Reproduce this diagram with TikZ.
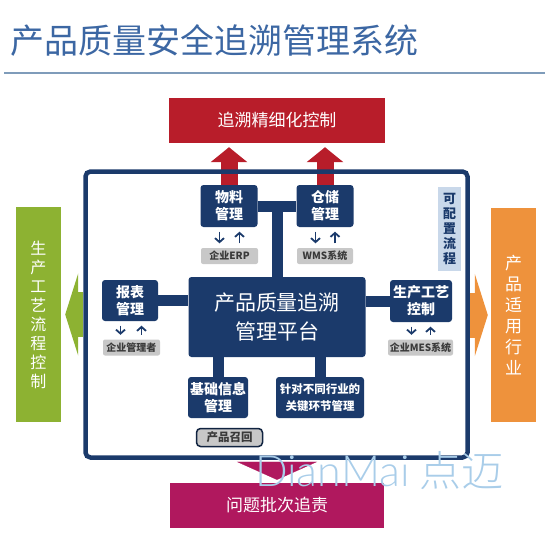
\documentclass[tikz,border=0pt]{standalone}
\usepackage{fontspec}
\setmainfont{Noto Sans CJK SC}
\newfontfamily\wmfont{Lato}[UprightFont=* Light]
\newfontfamily\wmcjk{Noto Sans CJK SC}[UprightFont=* Light]
\usepackage{tikz}
\usetikzlibrary{arrows.meta,calc}

\definecolor{navy}{HTML}{1B3A6B}
\definecolor{titleblue}{HTML}{3C67A3}
\definecolor{rulegray}{HTML}{7F9CBA}
\definecolor{crimson}{HTML}{B81D2A}
\definecolor{berry}{HTML}{B0185E}
\definecolor{leaf}{HTML}{8DB232}
\definecolor{amber}{HTML}{EE923C}
\definecolor{paleblue}{HTML}{C9D8EA}
\definecolor{labelgray}{HTML}{C8C8C8}
\definecolor{labeltext}{HTML}{3A3A3A}
\definecolor{wmblue}{HTML}{A9CDE9}

\begin{document}
\begin{tikzpicture}[x=1pt,y=-1pt]
    \tikzstyle{module}=[fill=navy,text=white,rounded corners=3pt,align=center,inner sep=0pt,font=\fontsize{14}{17}\selectfont\bfseries]
    \tikzstyle{source}=[fill=labelgray,text=labeltext,rounded corners=2pt,inner sep=0pt,minimum height=16pt,font=\fontsize{10}{12}\selectfont\bfseries]
    \tikzstyle{banner}=[text=white,inner sep=0pt,align=center,font=\fontsize{17}{21}\selectfont]
    \tikzstyle{link}=[draw=navy,line width=11pt]
    \tikzstyle{flow}=[draw=navy,line width=1.8pt,-{Straight Barb[length=4pt,width=9pt]},shorten <=4.5pt,shorten >=4.5pt]
    \tikzstyle{uparrow}=[draw=crimson,line width=17pt,-{Triangle[width=36pt,length=15pt]},shorten >=4pt]

    \useasboundingbox (0,0) rectangle (550,550);

    % Title and rule
    \node[anchor=west,inner sep=0pt,text=titleblue,font=\fontsize{34}{36}\selectfont] (title) at (10,41) {产品质量安全追溯管理系统};
    \draw[rulegray,line width=1.5pt] (4,73) -- (545,73);

    \node[banner,fill=crimson,minimum width=216pt,minimum height=45pt] (goal) at (277,120.5) {追溯精细化控制};

    % Modules inside the platform
    \node[module,minimum width=57pt,minimum height=42pt] (wl) at (229,206) {物料\\管理};
    \node[module,minimum width=57pt,minimum height=42pt] (wh) at (325,206) {仓储\\管理};
    \node[module,minimum width=177pt,minimum height=80pt,font=\fontsize{21}{29}\selectfont] (core) at (277,317) {产品质量追溯\\管理平台};
    \node[module,minimum width=56pt,minimum height=41pt] (rep) at (130,300.5) {报表\\管理};
    \node[module,minimum width=62pt,minimum height=42pt] (proc) at (421,301) {生产工艺\\控制};
    \node[module,minimum width=60pt,minimum height=41pt] (base) at (218,397.5) {基础信息\\管理};
    \node[module,minimum width=88pt,minimum height=41pt,font=\fontsize{11.5}{17}\selectfont\bfseries] (key) at (320,397.5) {针对不同行业的\\关键环节管理};

    % Outside systems
    \node[source,minimum width=57pt] (erp) at (229.5,256) {企业ERP};
    \node[source,minimum width=56pt] (wms) at (325,256) {WMS系统};
    \node[source,minimum width=57pt] (mgr) at (131.5,347.5) {企业管理者};
    \node[source,minimum width=65pt] (mes) at (420.5,347.5) {企业MES系统};
    \node[source,draw=navy!60!black,line width=1.5pt,rounded corners=4pt,minimum width=66pt,minimum height=18pt,font=\fontsize{11.5}{13}\selectfont\bfseries] (recall) at (229.5,437.5) {产品召回};
    \node[fill=paleblue,text=navy,inner sep=0pt,minimum width=23pt,minimum height=84pt,align=center,font=\fontsize{13}{15}\selectfont\bfseries] (cfg) at (449.5,229) {可\\配\\置\\流\\程};

    % Links to the platform
    \draw[link] (wl) -- (wh);
    \draw[link] ($(wl)!0.5!(wh)$) -- (core);
    \draw[link] (rep.east) -- (rep.east -| core.west);
    \draw[link] (core.east |- proc) -- (proc.west);
    \draw[link] (base) -- (base |- core.south);
    \draw[link] (key) -- (key |- core.south);

    % Data in and out
    \foreach \mod/\src in {wl/erp,wh/wms,rep/mgr,proc/mes}
    {
        \draw[flow] ([xshift=-9.5pt]\mod.south) -- ([xshift=-9.5pt]\mod.south |- \src.north);
        \draw[flow] ([xshift=10pt]\src.north) -- ([xshift=10pt]\src.north |- \mod.south);
    }

    \draw[uparrow] (wl) -- (wl |- goal.south);
    \draw[uparrow] (wh) -- (wh |- goal.south);

    % Platform frame
    \node[draw=navy,line width=4.5pt,rounded corners=5pt,minimum width=382pt,minimum height=286pt,inner sep=0pt] (fr) at (276.5,314.5) {};

    % Side and bottom results
    \node[banner,fill=leaf,minimum width=45pt,minimum height=215pt,font=\fontsize{16}{19}\selectfont] (side) at (38.5,314.5) {生\\产\\工\\艺\\流\\程\\控\\制};
    \node[banner,fill=amber,minimum width=45pt,minimum height=214pt,font=\fontsize{17}{21}\selectfont] (crop) at (513.5,315) {产\\品\\适\\用\\行\\业};
    \node[banner,fill=berry,minimum width=214pt,minimum height=45pt] (blame) at (277,505.5) {问题批次追责};

    \draw[draw=leaf,line width=45pt,-{Triangle[width=82pt,length=13pt]},shorten >=4pt] (fr.west |- side) -- (side);
    \draw[draw=amber,line width=45pt,-{Triangle[width=82pt,length=13pt]},shorten >=3pt] (fr.east |- crop) -- (crop);
    \draw[draw=berry,line width=0.2pt,-{Triangle[width=80pt,length=18pt]},shorten <=2.5pt,shorten >=3pt] (fr.south -| blame) -- (blame);

    \node[anchor=west,inner sep=0pt,text=wmblue,font=\fontsize{43}{43}\selectfont] (wm) at (255,471) {{\wmfont DianMai}\hspace{10pt}{\wmcjk\fontsize{42}{42}\selectfont 点迈}};
\end{tikzpicture}
\end{document}
